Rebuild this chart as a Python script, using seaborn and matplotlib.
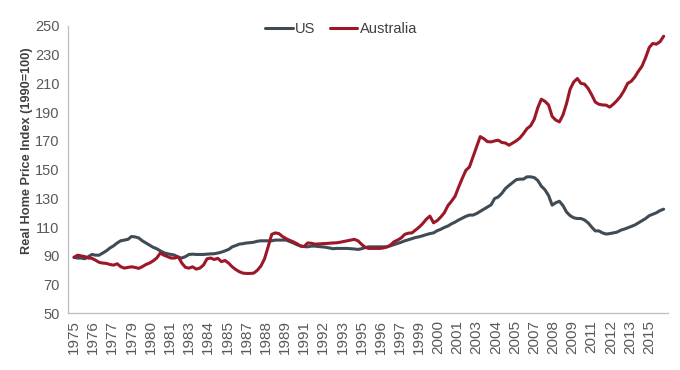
import numpy as np
import pandas as pd
import matplotlib
matplotlib.use("Agg")
import matplotlib.pyplot as plt
import matplotlib.dates as mdates
import seaborn as sns

# Quarterly index values, 1975Q1 .. 2016Q1 (1990=100)
us = [
    89, 88.5, 88.5, 88,  89.5, 91, 90.5, 90.5,  92, 93.5, 95.5, 97,  99, 100.5, 101, 101.5,
    103.5, 103.2, 102.5, 100.5,  99, 97.5, 96, 95,  93.5, 92.2, 91.5, 91,  90.5, 89, 88.5, 89.5,
    91, 91.2, 91, 91,  91, 91.2, 91.4, 91.5,  92, 92.6, 93.5, 94.5,  96.3, 97.2, 98.2, 98.5,
    99, 99.2, 99.5, 100.2,  100.5, 100.5, 100.5, 100.5,  101, 101, 101, 101,  100, 99, 97.8, 97,
    96.5, 96.3, 96.8, 96.8,  96.5, 96.3, 96, 95.5,  95, 95.2, 95.2, 95.2,  95.2, 95, 94.8, 94.5,
    95, 95.8, 96.3, 96.3,  96.3, 96.3, 96.3, 96.3,  97, 97.8, 98.6, 99.5,  100.5, 101.2, 102, 102.8,
    103.3, 104, 104.8, 105.5,  106, 107.5, 108.5, 109.8,  110.8, 112.3, 113.5, 115,  116.3, 117.5, 118.4, 118.4,
    119.5, 121, 122.5, 124,  125.5, 129.9, 131, 133.5,  136.9, 139, 141, 143,  143.4, 143.4, 145, 145,
    144.5, 142.5, 138.5, 136,  132, 125.3, 127, 128,  125, 120.5, 118, 116.5,  116, 116, 115, 113,
    110, 107.4, 107.4, 106,  105.2, 105.5, 106, 106.5,  107.8, 108.6, 109.5, 110.5,  111.5, 113, 114.5, 116,
    118, 119, 120, 121.5,  122.5,
]
australia = [
    89, 90.5, 90, 89.5,  88.5, 88.3, 87, 85.5,  85, 84.8, 84, 83.6,  84.5, 82.5, 81.5, 82,
    82.4, 82, 81.3, 82.5,  84, 85, 86.5, 88.5,  92, 90.5, 89.5, 88.5,  88.5, 89.4, 85, 82,
    81.5, 82.4, 80.8, 81.5,  83.6, 88, 88.5, 87.5,  88.3, 86, 86.8, 85,  82.4, 80.5, 79, 78,
    77.8, 77.8, 78, 80,  83, 88, 96.3, 105,  106, 105.5, 103.5, 102,  100.8, 99.8, 98.5, 96.8,
    96.5, 99, 98.8, 98.2,  98.3, 98.5, 98.6, 98.8,  99, 99.1, 99.5, 100,  100.5, 101, 101.5, 100.5,
    98, 96, 95.2, 95.2,  95.2, 95.2, 95.5, 96.2,  97.5, 99.8, 101, 102.5,  105, 105.8, 106, 108,
    110, 112.5, 115.5, 117.7,  113, 114.5, 117, 120,  125, 128, 131.5, 138,  144, 149.5, 151.9, 159,
    166, 173, 171.5, 169.5,  169.3, 170, 170.5, 168.9,  168.5, 167, 168.5, 170,  172, 175, 178.5, 180.5,
    185, 193, 199, 197.5,  195, 187, 184.5, 183.2,  188, 196, 206, 211,  213.4, 210, 209.5, 206.5,
    202, 197, 195.5, 195,  194.9, 193.5, 195.5, 198,  201, 205, 210, 211.5,  214.5, 218.5, 222, 228,
    235, 237.8, 237.3, 239,  242.8,
]
dates = pd.date_range("1975-01-01", periods=len(us), freq="QS")
tick_dates = pd.date_range("1975-01-01", "2015-01-01", freq="16MS")
y_ticks = list(range(50, 251, 20))

df = pd.DataFrame({"date": np.concatenate([dates, dates]),
                   "value": us + australia,
                   "series": ["US"] * len(us) + ["Australia"] * len(australia)})

sns.set_style("white")
plt.rcParams["font.family"] = ["Liberation Sans", "DejaVu Sans"]

fig = plt.figure(figsize=(6.8, 3.7), dpi=100)
ax = fig.add_axes([0.1, 0.153, 0.882, 0.777])

sns.lineplot(data=df, x="date", y="value", hue="series",
             palette={"US": "#3f4b55", "Australia": "#9c1728"},
             linewidth=2.2, ax=ax)

ax.set_xlim(pd.Timestamp("1974-08-01"), pd.Timestamp("2016-04-15"))
ax.set_ylim(50, 250)
ax.set_yticks(y_ticks)
ax.set_xticks(tick_dates)
ax.xaxis.set_major_formatter(mdates.DateFormatter("%Y"))
ax.tick_params(axis="x", rotation=90, labelsize=11, colors="#595959",
               length=3, width=0.8, color="#bfbfbf", pad=2)
ax.tick_params(axis="y", labelsize=10.5, colors="#595959",
               length=4, width=0.8, color="#bfbfbf", pad=2)

for s in ["top", "right"]:
    ax.spines[s].set_visible(False)
for s in ["left", "bottom"]:
    ax.spines[s].set_color("#bfbfbf")
    ax.spines[s].set_linewidth(0.9)

ax.set_xlabel("")
ax.set_ylabel("Real Home Price Index (1990=100)", fontsize=9.2,
              fontweight="bold", color="#404040")
ax.yaxis.set_label_coords(-0.058, 0.565)

leg = ax.legend(loc="upper center", bbox_to_anchor=(0.455, 1.06), ncol=2,
                frameon=False, fontsize=10.5, handlelength=1.9,
                handletextpad=0.15, columnspacing=1.0)
for t in leg.get_texts():
    t.set_color("#404040")

fig.savefig("out.png", dpi=100)
